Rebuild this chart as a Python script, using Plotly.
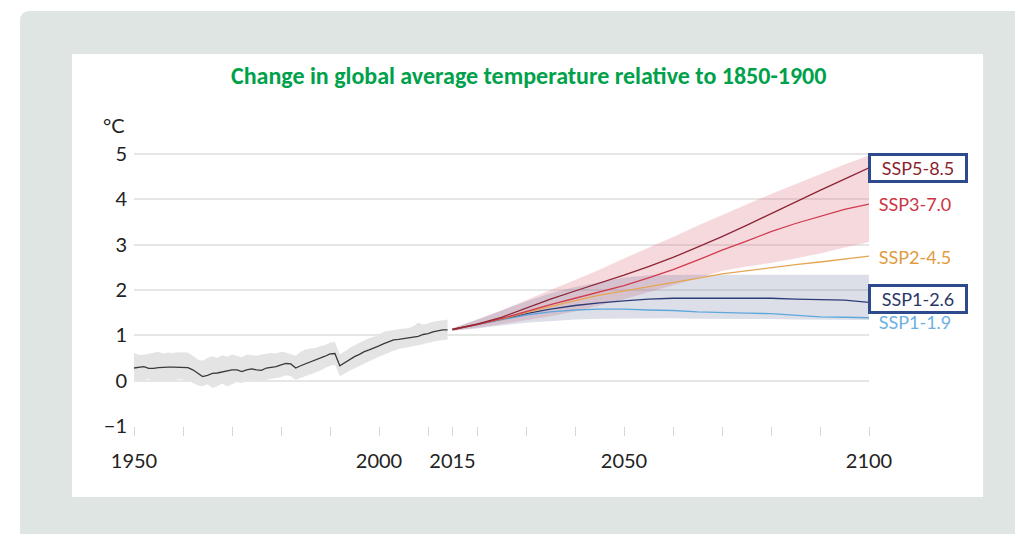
import plotly.graph_objects as go

# ---------------- data ----------------
hist_years = list(range(1950, 2015))
hist_mean = [0.28, 0.30, 0.31, 0.27, 0.27, 0.29, 0.30, 0.30, 0.30, 0.30,
             0.30, 0.29, 0.24, 0.16, 0.09, 0.12, 0.16, 0.17, 0.19, 0.22,
             0.24, 0.24, 0.20, 0.24, 0.26, 0.24, 0.23, 0.28, 0.30, 0.31,
             0.35, 0.38, 0.37, 0.28, 0.33, 0.37, 0.42, 0.45, 0.49, 0.54,
             0.59, 0.60, 0.33, 0.40, 0.46, 0.53, 0.58, 0.64, 0.68, 0.72,
             0.77, 0.82, 0.86, 0.90, 0.91, 0.93, 0.94, 0.97, 0.98, 1.02,
             1.04, 1.08, 1.10, 1.12, 1.12]
hist_upper = [0.61, 0.57, 0.57, 0.59, 0.62, 0.64, 0.60, 0.62, 0.61, 0.63,
              0.62, 0.62, 0.55, 0.47, 0.44, 0.50, 0.54, 0.50, 0.56, 0.53,
              0.58, 0.55, 0.52, 0.58, 0.56, 0.55, 0.58, 0.60, 0.61, 0.60,
              0.64, 0.62, 0.58, 0.55, 0.64, 0.69, 0.71, 0.72, 0.76, 0.79,
              0.84, 0.86, 0.58, 0.66, 0.72, 0.78, 0.83, 0.88, 0.94, 0.97,
              1.02, 1.08, 1.10, 1.12, 1.13, 1.15, 1.16, 1.20, 1.28, 1.24,
              1.26, 1.30, 1.32, 1.34, 1.35]
hist_lower = [0.02, 0.00, 0.01, 0.04, -0.02, 0.01, -0.03, 0.02, 0.00, 0.03,
              0.02, 0.01, -0.05, -0.10, -0.12, -0.08, -0.16, -0.12, -0.06, -0.13,
              -0.08, -0.03, -0.05, 0.00, 0.02, 0.01, 0.00, 0.03, 0.05, 0.06,
              0.08, 0.12, 0.10, 0.02, 0.07, 0.10, 0.14, 0.18, 0.22, 0.28,
              0.33, 0.36, 0.10, 0.16, 0.22, 0.28, 0.33, 0.38, 0.43, 0.48,
              0.53, 0.57, 0.62, 0.66, 0.70, 0.72, 0.74, 0.76, 0.78, 0.80,
              0.83, 0.86, 0.88, 0.90, 0.91]

scen_years = list(range(2015, 2101, 5))
ssp585 = [1.13, 1.25, 1.40, 1.60, 1.80, 1.98, 2.15, 2.33, 2.52, 2.72,
          2.95, 3.18, 3.43, 3.69, 3.95, 4.20, 4.45, 4.70]
ssp370 = [1.13, 1.24, 1.37, 1.53, 1.68, 1.82, 1.96, 2.10, 2.27, 2.45,
          2.66, 2.88, 3.08, 3.29, 3.47, 3.63, 3.78, 3.90]
ssp245 = [1.13, 1.24, 1.36, 1.50, 1.64, 1.77, 1.89, 1.98, 2.08, 2.16,
          2.26, 2.36, 2.43, 2.49, 2.56, 2.62, 2.69, 2.75]
ssp126 = [1.13, 1.24, 1.36, 1.48, 1.58, 1.66, 1.72, 1.76, 1.80, 1.82,
          1.82, 1.82, 1.82, 1.82, 1.80, 1.79, 1.78, 1.73]
ssp119 = [1.13, 1.24, 1.35, 1.45, 1.52, 1.56, 1.58, 1.58, 1.56, 1.55,
          1.52, 1.50, 1.49, 1.48, 1.45, 1.41, 1.40, 1.39]

red_upper = [1.16, 1.34, 1.55, 1.78, 2.00, 2.22, 2.45, 2.70, 2.93, 3.17,
             3.42, 3.66, 3.89, 4.12, 4.34, 4.56, 4.77, 4.97]
red_lower = [1.10, 1.17, 1.25, 1.33, 1.42, 1.53, 1.66, 1.80, 1.95, 2.10,
             2.26, 2.42, 2.52, 2.60, 2.70, 2.81, 2.94, 3.06]
blue_upper = [1.16, 1.35, 1.55, 1.75, 1.93, 2.07, 2.18, 2.28, 2.33, 2.34,
              2.34, 2.34, 2.34, 2.34, 2.34, 2.34, 2.34, 2.34]
blue_lower = [1.10, 1.15, 1.22, 1.28, 1.32, 1.35, 1.37, 1.38, 1.38, 1.38,
              1.37, 1.37, 1.36, 1.36, 1.35, 1.35, 1.34, 1.34]

scenario_names = ["SSP5-8.5", "SSP3-7.0", "SSP2-4.5", "SSP1-2.6", "SSP1-1.9"]
scenario_values = [ssp585, ssp370, ssp245, ssp126, ssp119]
line_colors = ["#8c2434", "#d23a4e", "#e6a553", "#2b3b78", "#5fa8dc"]
label_colors = ["#8b1f2e", "#cc3344", "#e09b3f", "#2b3668", "#6db0e2"]
label_yshift = [0, 0, -1, 3, -4]
boxed = [True, False, False, True, False]

x_tick_vals = [1950, 1960, 1970, 1980, 1990, 2000, 2010, 2015, 2020, 2030,
               2040, 2050, 2060, 2070, 2080, 2090, 2100]
x_tick_labels = {1950: "1950", 2000: "2000", 2015: "2015", 2050: "2050", 2100: "2100"}
y_tick_vals = [-1, 0, 1, 2, 3, 4, 5]

title_text = "Change in global average temperature relative to 1850-1900"

# ---------------- figure ----------------
W, H = 1015, 534
ML, MT = 134, 127
MB = H - 426
MR = W - 869
PW, PH = W - ML - MR, H - MT - MB
FONT = "Lato, 'Open Sans', sans-serif"


def px(x):
    return (x - ML) / PW


def py(y):
    return (H - MB - y) / PH


fig = go.Figure()

# historical band + line
fig.add_trace(go.Scatter(x=hist_years + hist_years[::-1], y=hist_upper + hist_lower[::-1],
                         fill="toself", fillcolor="#e4e4e4", line=dict(width=0),
                         mode="lines", hoverinfo="skip", showlegend=False))
# scenario bands
fig.add_trace(go.Scatter(x=scen_years + scen_years[::-1], y=red_upper + red_lower[::-1],
                         fill="toself", fillcolor="rgba(218,98,112,0.24)", line=dict(width=0),
                         mode="lines", hoverinfo="skip", showlegend=False))
fig.add_trace(go.Scatter(x=scen_years + scen_years[::-1], y=blue_upper + blue_lower[::-1],
                         fill="toself", fillcolor="rgba(112,122,160,0.24)", line=dict(width=0),
                         mode="lines", hoverinfo="skip", showlegend=False))

fig.add_trace(go.Scatter(x=hist_years, y=hist_mean, mode="lines",
                         line=dict(color="#3a3a3a", width=1.3), showlegend=False))

for name, vals, col in zip(scenario_names[::-1], scenario_values[::-1], line_colors[::-1]):
    fig.add_trace(go.Scatter(x=scen_years, y=vals, mode="lines", name=name,
                             line=dict(color=col, width=1.3), showlegend=False))

# labels at the right ends
for name, vals, col, ys, bx in zip(scenario_names, scenario_values, label_colors,
                                   label_yshift, boxed):
    fig.add_annotation(x=scen_years[-1], y=vals[-1], xref="x", yref="y",
                       text=name, showarrow=False, xanchor="left", yanchor="middle",
                       xshift=-1, yshift=ys, width=92, height=22, align="center",
                       font=dict(family=FONT, size=18, color=col),
                       bordercolor="#2d4a8c" if bx else "rgba(0,0,0,0)",
                       borderwidth=3 if bx else 0, borderpad=1)

# unit label
fig.add_annotation(x=px(114), y=py(125), xref="paper", yref="paper", text="°C",
                   showarrow=False, xanchor="center", yanchor="middle",
                   font=dict(family=FONT, size=20, color="#222222"))

# title
fig.add_annotation(x=px(528), y=py(76), xref="paper", yref="paper", text=f"<b>{title_text}</b>",
                   showarrow=False, xanchor="center", yanchor="middle",
                   font=dict(family="Carlito, Calibri, Lato, sans-serif", size=24, color="#00a14b"))

# backgrounds
shapes = [
    dict(type="path", xref="paper", yref="paper", layer="below",
         path=f"M {px(20)},{py(540)} L {px(20)},{py(21)} Q {px(20)},{py(11)} {px(30)},{py(11)} "
              f"L {px(1020)},{py(11)} L {px(1020)},{py(540)} Z",
         fillcolor="#dfe5e3", line=dict(width=0)),
    dict(type="rect", xref="paper", yref="paper", layer="below",
         x0=px(72), x1=px(983), y0=py(497), y1=py(54),
         fillcolor="#ffffff", line=dict(width=0)),
]

fig.update_layout(
    width=W, height=H,
    margin=dict(l=ML, r=MR, t=MT, b=MB),
    paper_bgcolor="#ffffff", plot_bgcolor="rgba(0,0,0,0)",
    shapes=shapes,
    font=dict(family=FONT, color="#222222"),
    xaxis=dict(range=[1950, 2100], tickmode="array", tickvals=x_tick_vals,
               ticktext=[x_tick_labels.get(v, "") for v in x_tick_vals],
               ticks="outside", ticklen=9, tickwidth=1, tickcolor="#d6d6d6",
               ticklabelstandoff=8,
               showgrid=False, zeroline=False, showline=False,
               tickfont=dict(family=FONT, size=20, color="#222222")),
    yaxis=dict(range=[-1, 5.6], tickmode="array", tickvals=y_tick_vals,
               ticktext=["−1", "0", "1", "2", "3", "4", "5"],
               showgrid=True, gridcolor="#e6e6e6", gridwidth=1.5,
               zeroline=False, showline=False, ticks="", ticklabelstandoff=6,
               tickfont=dict(family=FONT, size=20, color="#222222")),
)

fig.write_html("out.html", config={"displayModeBar": False},
               post_script="document.body.style.margin='0';document.body.style.overflow='hidden';")
